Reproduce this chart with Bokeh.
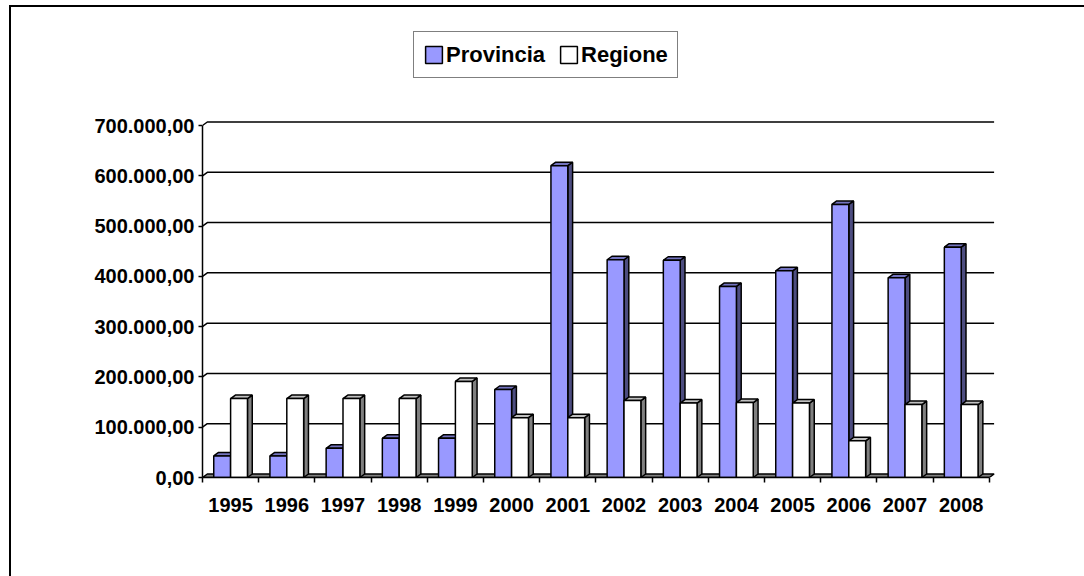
from bokeh.plotting import figure
from bokeh.models import Range1d, FixedTicker, Legend, LegendItem
from bokeh.embed import file_html
from bokeh.resources import INLINE

# ---------------- data ----------------
years = ["1995", "1996", "1997", "1998", "1999", "2000", "2001",
         "2002", "2003", "2004", "2005", "2006", "2007", "2008"]
provincia = [43000, 43000, 58000, 78000, 78000, 175000, 620000,
             433000, 432000, 380000, 411000, 543000, 397000, 458000]
regione = [157000, 157000, 157000, 157000, 191000, 119000, 119000,
           153000, 148000, 149000, 148000, 73000, 145000, 145000]
yticks = [0, 100000, 200000, 300000, 400000, 500000, 600000, 700000]
ytick_labels = ["0,00", "100.000,00", "200.000,00", "300.000,00",
                "400.000,00", "500.000,00", "600.000,00", "700.000,00"]

# ---------------- style ----------------
PX_X = 56.2            # px per category
PX_Y = 352 / 700000.0  # px per unit value
DX = 4.8 / PX_X        # 3D depth offset (x)
DY = 3.5 / PX_Y        # 3D depth offset (y)
LW = 1.5
AXIS_FS = "20px"

n = len(years)
FW, FH = 794, 457
p = figure(frame_width=FW, frame_height=FH,
           min_border_left=202, min_border_right=88,
           min_border_top=20, min_border_bottom=99,
           x_range=Range1d(0, FW / PX_X), y_range=Range1d(0, FH / PX_Y),
           output_backend="svg", toolbar_location=None)
p.xgrid.visible = False
p.ygrid.visible = False
p.outline_line_color = None
p.background_fill_color = None
p.border_fill_color = None
p.styles = {"box-shadow": "inset 9px 0 0 0 white, inset 0 5px 0 0 white, "
                          "inset 11px 0 0 0 black, inset 0 7px 0 0 black"}

# back wall gridlines with diagonal connectors
gx, gy = [], []
for v in yticks[1:]:
    gx.append([0, DX, n + DX])
    gy.append([v, v + DY, v + DY])
p.multi_line(gx, gy, line_color="black", line_width=LW)

# floor
p.patch([0, n, n + DX, DX], [0, 0, DY, DY], fill_color="#808080",
        line_color="black", line_width=LW)


def bars3d(vals, x0, x1, front, side, top):
    lefts = [i + x0 for i in range(n)]
    rights = [i + x1 for i in range(n)]
    sx = [[r, r + DX, r + DX, r] for r in rights]
    sy = [[0, DY, v + DY, v] for v in vals]
    p.patches(sx, sy, fill_color=side, line_color="black", line_width=LW)
    tx = [[l, l + DX, r + DX, r] for l, r in zip(lefts, rights)]
    ty = [[v, v + DY, v + DY, v] for v in vals]
    p.patches(tx, ty, fill_color=top, line_color="black", line_width=LW)
    return p.quad(left=lefts, right=rights, bottom=0, top=vals,
                  fill_color=front, line_color="black", line_width=LW)


r_prov = bars3d(provincia, 0.2, 0.5, "#9999FF", "#4D4D80", "#7373BF")
r_reg = bars3d(regione, 0.5, 0.8, "#FFFFFF", "#808080", "#C0C0C0")

# axes
ya = p.yaxis[0]
ya.ticker = FixedTicker(ticks=yticks)
ya.bounds = (0, 700000)
ya.major_label_overrides = {v: s for v, s in zip(yticks, ytick_labels)}
ya.axis_line_width = LW
ya.major_tick_line_width = LW
ya.major_tick_out = 4
ya.major_tick_in = 0
ya.minor_tick_out = 0
ya.minor_tick_in = 0
ya.major_label_standoff = 4
ya.major_label_text_font = "Liberation Sans"
ya.major_label_text_font_style = "bold"
ya.major_label_text_font_size = AXIS_FS
ya.major_label_text_color = "black"

xa = p.xaxis[0]
centers = [i + 0.5 for i in range(n)]
xa.ticker = FixedTicker(ticks=centers, minor_ticks=list(range(n + 1)))
xa.bounds = (0, n)
xa.major_label_overrides = {c: y for c, y in zip(centers, years)}
xa.axis_line_width = LW
xa.major_tick_out = 0
xa.major_tick_in = 0
xa.minor_tick_out = 5
xa.minor_tick_in = 0
xa.minor_tick_line_color = "black"
xa.minor_tick_line_width = LW
xa.major_label_standoff = 15
xa.major_label_text_font = "Liberation Sans"
xa.major_label_text_font_style = "bold"
xa.major_label_text_font_size = AXIS_FS
xa.major_label_text_color = "black"

legend = Legend(items=[LegendItem(label="Provincia", renderers=[r_prov]),
                       LegendItem(label="Regione", renderers=[r_reg])],
                orientation="horizontal", location=(211, 399), margin=0,
                padding=9, spacing=13, glyph_width=21, glyph_height=21,
                label_standoff=2, label_height=27,
                label_text_font="Liberation Sans", label_text_font_style="bold",
                label_text_font_size="22px", label_text_color="black",
                border_line_color="black", border_line_width=LW,
                background_fill_color="white", background_fill_alpha=1.0)
p.add_layout(legend, "center")

open("out.html", "w").write(file_html(p, INLINE))
